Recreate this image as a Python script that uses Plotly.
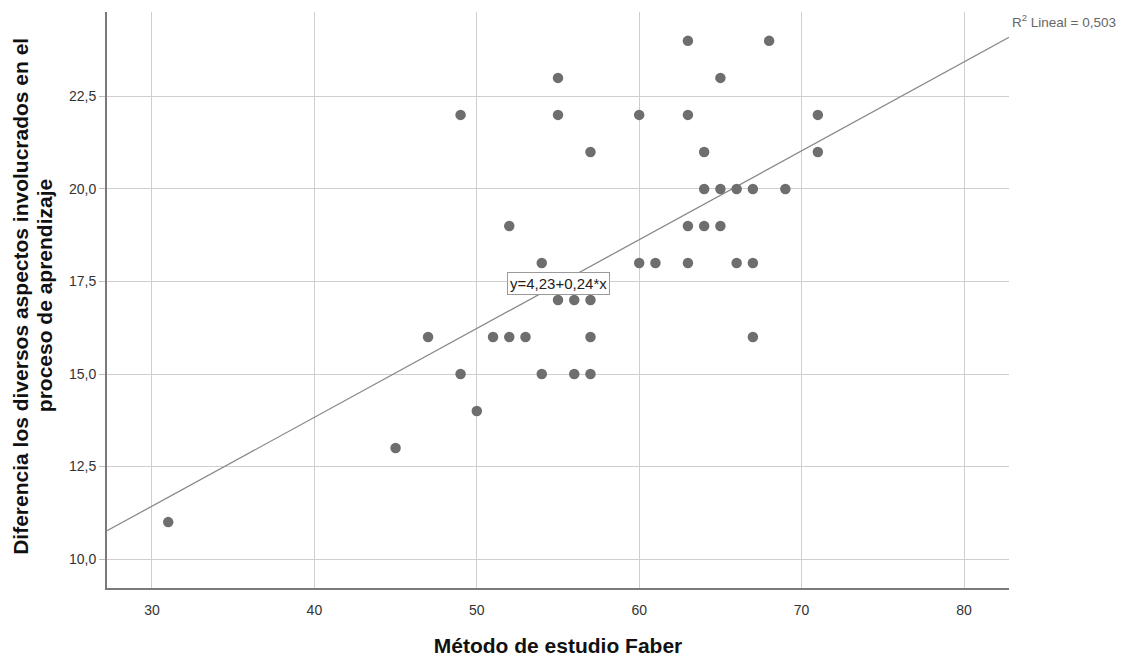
import plotly.graph_objects as go

# Puntuaciones observadas: Método de estudio Faber (x) y diferencia en aspectos de aprendizaje (y)
faber = [31, 45, 47, 49, 49, 50, 51, 52, 52, 53, 54, 54, 55, 55, 55, 56, 56,
         57, 57, 57, 57, 60, 60, 61, 63, 63, 63, 63, 64, 64, 64, 65, 65, 65,
         66, 66, 67, 67, 67, 68, 69, 71, 71]
diferencia = [11, 13, 16, 22, 15, 14, 16, 19, 16, 16, 18, 15, 23, 22, 17, 17, 15,
              21, 17, 16, 15, 22, 18, 18, 24, 22, 19, 18, 21, 20, 19, 23, 20, 19,
              20, 18, 20, 18, 16, 24, 20, 22, 21]

# Recta de ajuste lineal y R²
intercepto = 4.23
pendiente = 0.24
r2 = 0.503

x_range = [27.23, 82.77]
y_range = [9.22, 24.78]

x_ticks = [30, 40, 50, 60, 70, 80]
y_ticks = [10.0, 12.5, 15.0, 17.5, 20.0, 22.5]
y_ticklabels = ["10,0", "12,5", "15,0", "17,5", "20,0", "22,5"]

x_title = "Método de estudio Faber"
y_title_lines = ["Diferencia los diversos aspectos involucrados en el",
                 "proceso de aprendizaje"]

FONT = "Liberation Sans, Arial, sans-serif"


def coma(v, dec):
    return f"{v:.{dec}f}".replace(".", ",")


fig = go.Figure()

fit_x = x_range
fit_y = [intercepto + pendiente * v for v in fit_x]
fig.add_trace(go.Scatter(
    x=fit_x, y=fit_y, mode="lines",
    line=dict(color="#8a8a8a", width=1.3),
    hoverinfo="skip", cliponaxis=False,
))

fig.add_trace(go.Scatter(
    x=faber, y=diferencia, mode="markers",
    marker=dict(color="#6e6e6e", size=10.5, line=dict(width=0)),
))

# Etiqueta de la ecuación sobre la recta
fig.add_annotation(
    x=55, y=17.45, xref="x", yref="y",
    text=f"y={coma(intercepto, 2)}+{coma(pendiente, 2)}*x",
    showarrow=False,
    font=dict(family=FONT, size=15, color="#222222"),
    bgcolor="white", bordercolor="#9a9a9a", borderwidth=1, borderpad=2,
)

# Etiqueta del R² en el extremo derecho de la recta
fig.add_annotation(
    x=x_range[1], y=fit_y[1], xref="x", yref="y",
    text="R<sup>2</sup> Lineal = " + coma(r2, 3),
    showarrow=False, xanchor="left", yanchor="bottom",
    xshift=1, yshift=5,
    font=dict(family=FONT, size=13.5, color="#666666"),
)

# Título del eje Y en dos líneas
for xpos, linea in zip([-0.0955, -0.0685], y_title_lines):
    fig.add_annotation(
        x=xpos, y=0.507, xref="paper", yref="paper",
        text=f"<b>{linea}</b>", textangle=-90, showarrow=False,
        xanchor="center", yanchor="middle",
        font=dict(family=FONT, size=21, color="#111111"),
    )

fig.update_layout(
    width=1123, height=657,
    margin=dict(l=107, r=114, t=12, b=69),
    paper_bgcolor="white", plot_bgcolor="white",
    showlegend=False,
    font=dict(family=FONT, color="#333333"),
    xaxis=dict(
        range=x_range, tickvals=x_ticks, automargin=False,
        showgrid=True, gridcolor="#cfcfcf", gridwidth=1,
        zeroline=False, showline=True, linecolor="#7a7a7a", linewidth=2,
        ticks="", ticklabelstandoff=8,
        tickfont=dict(family=FONT, size=14, color="#333333"),
        title=dict(text=f"<b>{x_title}</b>",
                   font=dict(family=FONT, size=21, color="#111111"), standoff=26),
    ),
    yaxis=dict(
        range=y_range, tickvals=y_ticks, ticktext=y_ticklabels, automargin=False,
        showgrid=True, gridcolor="#cfcfcf", gridwidth=1,
        zeroline=False, showline=True, linecolor="#7a7a7a", linewidth=2,
        ticks="outside", ticklen=6, tickcolor="#bdbdbd",
        tickfont=dict(family=FONT, size=14, color="#333333"),
    ),
)

fig.write_html("out.html")
